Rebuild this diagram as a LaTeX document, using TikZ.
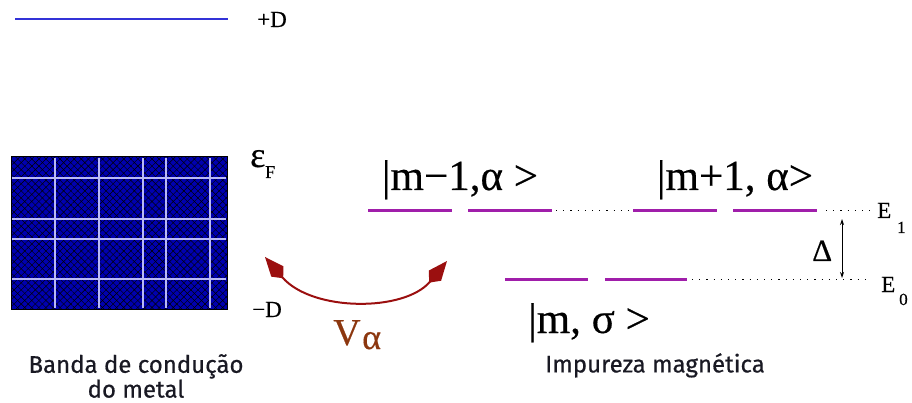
\documentclass[tikz,border=0pt]{standalone}
\usepackage{fontspec}
\setmainfont{Liberation Serif}
\newfontfamily\labelsans[FakeBold=0.6]{Fira Sans}
\newfontfamily\heavyserif[FakeBold=0.4]{Liberation Serif}
\usetikzlibrary{arrows.meta,patterns.meta}
\definecolor{bandblue}{RGB}{0,0,175}
\definecolor{gridwhite}{RGB}{185,185,245}
\definecolor{topblue}{RGB}{50,50,215}
\definecolor{levelpurple}{RGB}{160,30,170}
\definecolor{hopred}{RGB}{155,15,15}
\definecolor{vbrown}{RGB}{140,55,15}
\definecolor{captext}{RGB}{25,25,35}
\begin{document}
\begin{tikzpicture}[x=1pt,y=-1pt,
  serif/.style={inner sep=0pt,font=\heavyserif\fontsize{23}{25}\selectfont},
  statelabel/.style={inner sep=0pt,anchor=base,font=\heavyserif\fontsize{43}{46}\selectfont},
  sanslabel/.style={inner sep=0pt,align=center,text=captext,font=\labelsans\fontsize{24}{21}\selectfont},
  level/.style={levelpurple,line width=3pt},
  dotline/.style={line width=1pt,dash pattern=on 1.2pt off 6pt},
  gridline/.style={gridwhite,line width=1.1pt},
  hop/.style={hopred,line width=2pt,{Kite[length=28pt,width=16pt,inset=9pt]}-{Kite[length=28pt,width=16pt,inset=9pt]}},
  gap/.style={black,line width=0.8pt,{Stealth[length=6pt,width=4pt]}-{Stealth[length=6pt,width=4pt]}}
]
\useasboundingbox (0,0) rectangle (912,403);

% top band edge
\coordinate (tl) at (15,19);
\coordinate (tr) at (228,19);
\draw[topblue,line width=2pt] (tl) -- (tr);
\node[serif,anchor=base west] (plusD) at (257,27) {+D};

% conduction band box
\fill[bandblue] (11,157) rectangle (227,309);
\fill[pattern={Lines[angle=45,distance=5pt,line width=0.45pt]},pattern color=black] (11,157) rectangle (227,309);
\fill[pattern={Lines[angle=-45,distance=5pt,line width=0.45pt]},pattern color=black] (11,157) rectangle (227,309);
\foreach \x in {55,99,143,166,210} \draw[gridline] (\x,158) -- (\x,308);
\foreach \y in {178,219,239,279} \draw[gridline] (12,\y) -- (226,\y);
\draw[black,line width=1pt] (11,157) rectangle (227,309);

\node[inner sep=0pt,anchor=base west,font=\heavyserif\fontsize{36}{38}\selectfont] (eps) at (250,167) {ε};
\node[inner sep=0pt,anchor=base west,font=\heavyserif\fontsize{18}{20}\selectfont] (epsF) at (265,178) {F};
\node[serif,anchor=base west] (minusD) at (252,317) {−D};

% hybridisation arrow
\coordinate (hopL) at (265,257);
\coordinate (hopR) at (447,261);
\draw[hop] (hopL) .. controls (312,312) and (405,312) .. (hopR);
\node[inner sep=0pt,anchor=base west,text=vbrown,font=\heavyserif\fontsize{38}{40}\selectfont] (V) at (333,345) {V};
\node[inner sep=0pt,anchor=base west,text=vbrown,font=\heavyserif\fontsize{36}{38}\selectfont] (Valpha) at (362,349) {α};

% upper levels E1
\coordinate (u1a) at (368,211); \coordinate (u1b) at (452,211);
\coordinate (u2a) at (468,211); \coordinate (u2b) at (552,211);
\coordinate (u3a) at (633,211); \coordinate (u3b) at (717,211);
\coordinate (u4a) at (733,211); \coordinate (u4b) at (817,211);
\coordinate (ud1) at (556,211); \coordinate (ud2) at (630,211);
\coordinate (ud3) at (826,211); \coordinate (ud4) at (870,211);
\draw[level] (u1a) -- (u1b);
\draw[level] (u2a) -- (u2b);
\draw[level] (u3a) -- (u3b);
\draw[level] (u4a) -- (u4b);
\draw[dotline] (ud1) -- (ud2);
\draw[dotline] (ud3) -- (ud4);

% lower levels E0
\coordinate (l1a) at (505,279); \coordinate (l1b) at (588,279);
\coordinate (l2a) at (605,279); \coordinate (l2b) at (687,279);
\coordinate (ld1) at (692,279); \coordinate (ld2) at (868,279);
\draw[level] (l1a) -- (l1b);
\draw[level] (l2a) -- (l2b);
\draw[dotline] (ld1) -- (ld2);

% gap
\coordinate (gt) at (842,219);
\coordinate (gb) at (842,278);
\draw[gap] (gt) -- (gb);
\node[inner sep=0pt,anchor=base west,font=\heavyserif\fontsize{31}{33}\selectfont] (Delta) at (812,261) {Δ};

\node[serif,anchor=base west] (E1) at (877,218) {E};
\node[inner sep=0pt,anchor=base west,font=\heavyserif\fontsize{17}{19}\selectfont] (E1s) at (897,233) {1};
\node[serif,anchor=base west] (E0) at (881,292) {E};
\node[inner sep=0pt,anchor=base west,font=\heavyserif\fontsize{17}{19}\selectfont] (E0s) at (899,305) {0};

% state labels
\node[statelabel] (sA) at (460,190) {|m−1,α >};
\node[statelabel] (sB) at (735,190) {|m+1, α>};
\node[statelabel] (sC) at (589,333) {|m, σ >};

% captions
\node[sanslabel,anchor=north] (capBand) at (136,354) {Banda de condução\\do metal};
\node[sanslabel,anchor=north] (capImp) at (655,353) {Impureza magnética};
\end{tikzpicture}
\end{document}
